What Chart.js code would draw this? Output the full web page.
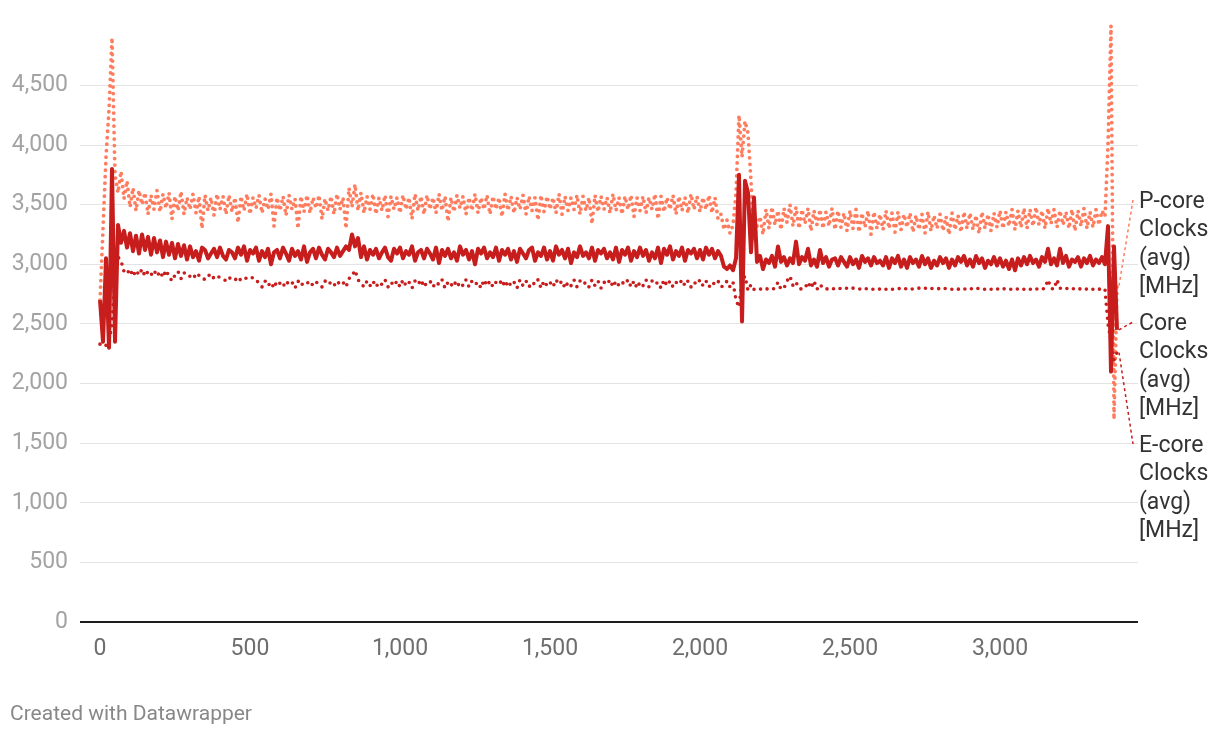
<!DOCTYPE html>
<html>
<head>
<meta charset="utf-8">
<title>Core Clocks</title>
<script src="https://cdn.jsdelivr.net/npm/chart.js@4.4.1/dist/chart.umd.min.js"></script>
<style>
    html, body { margin: 0; padding: 0; background: #fff; }
    #wrap { width: 1220px; height: 738px; position: relative; }
</style>
</head>
<body>
<div id="wrap"><canvas id="clocksChart"></canvas></div>
<script>
// One sample every 10 steps of the original log
const SAMPLE_STEP = 10;

const xTicks = [0, 500, 1000, 1500, 2000, 2500, 3000];
const yTicks = [0, 500, 1000, 1500, 2000, 2500, 3000, 3500, 4000, 4500];

const seriesNames = [
    ['P-core', 'Clocks', '(avg)', '[MHz]'],
    ['Core', 'Clocks', '(avg)', '[MHz]'],
    ['E-core', 'Clocks', '(avg)', '[MHz]']
];

const pCoreMhz = [
    2700, 3300, 3900, 4300, 4900, 3750, 3600, 3780, 3550, 3700,
    3480, 3640, 3450, 3620, 3500, 3600, 3420, 3580, 3460, 3620,
    3440, 3590, 3470, 3600, 3380, 3570, 3450, 3610, 3420, 3560,
    3460, 3590, 3430, 3570, 3300, 3580, 3450, 3560, 3410, 3590,
    3460, 3570, 3420, 3580, 3440, 3560, 3350, 3570, 3450, 3590,
    3420, 3560, 3470, 3580, 3430, 3550, 3460, 3590, 3320, 3560,
    3450, 3570, 3410, 3580, 3460, 3550, 3300, 3570, 3440, 3580,
    3430, 3560, 3470, 3580, 3380, 3550, 3450, 3570, 3420, 3590,
    3460, 3560, 3300, 3640, 3480, 3670, 3450, 3600, 3430, 3570,
    3460, 3590, 3420, 3560, 3450, 3580, 3400, 3570, 3460, 3560,
    3430, 3580, 3460, 3560, 3380, 3590, 3450, 3570, 3420, 3580,
    3460, 3560, 3430, 3590, 3450, 3570, 3360, 3560, 3440, 3580,
    3470, 3570, 3420, 3560, 3450, 3590, 3430, 3560, 3460, 3580,
    3420, 3570, 3460, 3560, 3400, 3590, 3450, 3570, 3430, 3560,
    3460, 3580, 3420, 3570, 3450, 3560, 3370, 3580, 3440, 3570,
    3460, 3560, 3430, 3590, 3420, 3570, 3450, 3560, 3460, 3580,
    3420, 3570, 3450, 3560, 3340, 3580, 3440, 3570, 3460, 3560,
    3430, 3590, 3450, 3560, 3420, 3570, 3460, 3580, 3400, 3560,
    3450, 3570, 3430, 3560, 3460, 3590, 3380, 3570, 3440, 3560,
    3460, 3580, 3420, 3570, 3450, 3560, 3430, 3590, 3460, 3570,
    3440, 3560, 3460, 3580, 3430, 3560, 3380, 3420, 3290, 3370,
    3260, 3330, 3600, 4250, 3900, 4200, 4100, 3700, 3200, 3320,
    3400, 3250, 3460, 3300, 3480, 3330, 3450, 3290, 3470, 3350,
    3500, 3320, 3480, 3300, 3460, 3340, 3470, 3280, 3450, 3330,
    3460, 3300, 3440, 3320, 3470, 3290, 3450, 3310, 3430, 3280,
    3450, 3300, 3460, 3270, 3430, 3310, 3450, 3250, 3440, 3300,
    3420, 3290, 3450, 3300, 3430, 3270, 3440, 3290, 3420, 3310,
    3430, 3270, 3410, 3290, 3420, 3260, 3440, 3280, 3410, 3300,
    3420, 3280, 3400, 3250, 3430, 3290, 3410, 3270, 3440, 3300,
    3430, 3290, 3410, 3260, 3440, 3300, 3420, 3280, 3430, 3310,
    3450, 3300, 3440, 3320, 3460, 3290, 3450, 3310, 3470, 3300,
    3460, 3320, 3480, 3330, 3450, 3300, 3470, 3340, 3460, 3310,
    3450, 3330, 3440, 3300, 3460, 3280, 3450, 3320, 3470, 3300,
    3440, 3310, 3460, 3330, 3450, 3400, 4000, 5000, 1700, 2820
];

const coreMhz = [
    2700, 2350, 3050, 2300, 3800, 2350, 3330, 3180, 3280, 3140,
    3260, 3110, 3240, 3090, 3250, 3120, 3230, 3080, 3220, 3100,
    3200, 3060, 3190, 3080, 3180, 3050, 3170, 3070, 3160, 3040,
    3150, 3060, 3110, 3030, 3140, 3120, 3050, 3090, 3130, 3060,
    3140, 3070, 3040, 3120, 3100, 3050, 3140, 3080, 3150, 3030,
    3120, 3090, 3140, 3030, 3110, 3060, 3130, 3000, 3100, 3120,
    3050, 3140, 3090, 3030, 3130, 3070, 3110, 3040, 3150, 3020,
    3100, 3130, 3050, 3140, 3080, 3040, 3130, 3100, 3060, 3140,
    3070, 3110, 3150, 3120, 3250, 3150, 3220, 3060, 3150, 3040,
    3120, 3080, 3130, 3050, 3100, 3140, 3060, 3030, 3130, 3090,
    3140, 3050, 3110, 3080, 3150, 3030, 3100, 3120, 3050, 3130,
    3090, 3040, 3140, 3010, 3120, 3070, 3130, 3050, 3100, 3030,
    3150, 3080, 3120, 3040, 3110, 3000, 3130, 3090, 3140, 3050,
    3100, 3060, 3140, 3030, 3120, 3080, 3130, 3040, 3110, 3020,
    3130, 3090, 3050, 3120, 3140, 3030, 3100, 3070, 3140, 3040,
    3110, 3030, 3150, 3080, 3120, 3050, 3130, 3010, 3100, 3060,
    3150, 3070, 3100, 3050, 3140, 3030, 3120, 3090, 3130, 3050,
    3100, 3040, 3140, 3020, 3120, 3080, 3140, 3030, 3110, 3060,
    3140, 3070, 3120, 3030, 3100, 3050, 3140, 3010, 3130, 3080,
    3150, 3040, 3110, 3070, 3140, 3030, 3120, 3090, 3130, 3050,
    3120, 3040, 3140, 3080, 3130, 3050, 3110, 3070, 2980, 2960,
    2990, 2950, 3050, 3750, 2520, 3700, 3600, 3100, 3560, 3020,
    3070, 2960, 3040, 3010, 3070, 2980, 3150, 3020, 3060, 2990,
    3050, 3010, 3190, 3000, 3060, 3030, 3130, 2990, 3040, 2980,
    3120, 3010, 3060, 2980, 3040, 3050, 2990, 3060, 3020, 2980,
    3060, 3000, 3040, 2970, 3070, 3020, 3050, 2990, 3060, 3010,
    3030, 2990, 3060, 2970, 3050, 3010, 3070, 2980, 3040, 2970,
    3060, 3010, 3040, 2980, 3070, 3000, 3050, 2970, 3030, 2990,
    3060, 3010, 3050, 2970, 3040, 2990, 3060, 3020, 3070, 2990,
    3040, 2980, 3070, 3010, 3050, 2970, 3030, 3000, 3060, 2990,
    3050, 2980, 3030, 2960, 3040, 2950, 3050, 2990, 3060, 3000,
    3070, 3010, 3040, 2980, 3060, 3020, 3130, 3000, 3050, 2990,
    3130, 3010, 3070, 2980, 3040, 3020, 3060, 2980, 3050, 3010,
    3070, 2990, 3040, 3010, 3060, 3000, 3320, 2100, 3150, 2450
];

const eCoreMhz = [
    2330, 2340, 2320, 2350, 2500, 2900, 3060, 3030, 2940, 2920,
    2960, 2900, 2950, 2910, 2960, 2900, 2940, 2910, 2950, 2900,
    2940, 2890, 2950, 2900, 2860, 2910, 2940, 2880, 2930, 2900,
    2900, 2920, 2880, 2910, 2890, 2870, 2900, 2920, 2880, 2900,
    2890, 2880, 2860, 2890, 2870, 2880, 2850, 2880, 2870, 2890,
    2880, 2890, 2870, 2840, 2810, 2860, 2820, 2850, 2800, 2860,
    2840, 2810, 2860, 2830, 2850, 2800, 2860, 2820, 2850, 2840,
    2860, 2820, 2850, 2840, 2810, 2860, 2830, 2850, 2820, 2860,
    2830, 2850, 2810, 2880, 2900, 2950, 2870, 2840, 2810, 2860,
    2820, 2860, 2810, 2850, 2830, 2870, 2810, 2850, 2820, 2860,
    2810, 2870, 2820, 2850, 2800, 2860, 2830, 2870, 2810, 2850,
    2860, 2810, 2850, 2830, 2870, 2800, 2850, 2820, 2860, 2810,
    2850, 2820, 2870, 2810, 2860, 2830, 2850, 2800, 2870, 2820,
    2860, 2810, 2850, 2830, 2870, 2810, 2860, 2820, 2850, 2800,
    2870, 2820, 2860, 2810, 2850, 2830, 2870, 2800, 2860, 2820,
    2850, 2810, 2870, 2830, 2860, 2800, 2850, 2820, 2870, 2810,
    2860, 2830, 2850, 2810, 2870, 2820, 2860, 2800, 2850, 2830,
    2870, 2810, 2860, 2820, 2850, 2830, 2870, 2810, 2860, 2800,
    2850, 2820, 2870, 2810, 2860, 2830, 2850, 2800, 2870, 2820,
    2860, 2810, 2850, 2830, 2870, 2820, 2860, 2810, 2850, 2830,
    2870, 2820, 2860, 2810, 2850, 2830, 2860, 2810, 2820, 2860,
    2810, 2850, 2700, 2640, 2860, 2900, 2780, 2830, 2790, 2780,
    2790, 2800, 2790, 2800, 2790, 2800, 2850, 2790, 2800, 2860,
    2900, 2820, 2850, 2800, 2790, 2800, 2850, 2800, 2860, 2790,
    2830, 2800, 2790, 2800, 2790, 2800, 2790, 2800, 2790, 2800,
    2790, 2800, 2790, 2790, 2800, 2790, 2800, 2790, 2790, 2800,
    2790, 2800, 2790, 2800, 2790, 2790, 2800, 2790, 2800, 2790,
    2800, 2790, 2790, 2800, 2790, 2800, 2790, 2800, 2790, 2790,
    2800, 2790, 2800, 2790, 2790, 2800, 2790, 2800, 2790, 2800,
    2790, 2800, 2790, 2800, 2790, 2790, 2800, 2790, 2800, 2790,
    2800, 2790, 2800, 2790, 2790, 2800, 2790, 2800, 2790, 2800,
    2790, 2800, 2790, 2800, 2790, 2800, 2870, 2800, 2790, 2870,
    2800, 2790, 2800, 2790, 2800, 2790, 2800, 2790, 2800, 2790,
    2800, 2790, 2800, 2790, 2800, 2790, 2500, 2350, 2200, 2260
];

const P_COLOR = '#ff7c5e';
const CORE_COLOR = '#c71e1d';
const FONT = 'Roboto';

// centre of the first line of each end label
const labelCenters = [202, 324, 446];
const LABEL_LINE = 28.5;

function toPoints(values) {
    return values.map((v, i) => ({ x: i * SAMPLE_STEP, y: v }));
}

// Draws the connector lines, the series names and the footer
const endLabels = {
    id: 'endLabels',
    afterDatasetsDraw(chart) {
        const ctx = chart.ctx;
        const area = chart.chartArea;
        chart.data.datasets.forEach((ds, i) => {
            const meta = chart.getDatasetMeta(i);
            const last = meta.data[meta.data.length - 1];
            const cy = labelCenters[i];
            ctx.save();
            ctx.strokeStyle = ds.borderColor;
            ctx.lineWidth = 1.5;
            ctx.setLineDash([3, 3]);
            ctx.beginPath();
            ctx.moveTo(last.x + 2, last.y);
            ctx.lineTo(area.right - 5, cy - 2);
            ctx.stroke();
            ctx.setLineDash([]);
            ctx.fillStyle = '#333';
            ctx.font = '23px ' + FONT;
            ctx.textBaseline = 'middle';
            ctx.textAlign = 'left';
            seriesNames[i].forEach((line, k) => {
                ctx.fillText(line, area.right + 1, cy + k * LABEL_LINE);
            });
            ctx.restore();
        });

        ctx.save();
        ctx.fillStyle = '#888';
        ctx.font = '21px ' + FONT;
        ctx.textBaseline = 'middle';
        ctx.fillText('Created with Datawrapper', 10, 715);
        ctx.restore();
    }
};

const ctx = document.getElementById('clocksChart').getContext('2d');
new Chart(ctx, {
    type: 'line',
    data: {
        datasets: [
            {
                label: 'P-core Clocks (avg) [MHz]',
                data: toPoints(pCoreMhz),
                borderColor: P_COLOR,
                borderWidth: 3.8,
                borderDash: [0, 6.5],
                borderCapStyle: 'round',
                order: 3
            },
            {
                label: 'Core Clocks (avg) [MHz]',
                data: toPoints(coreMhz),
                borderColor: CORE_COLOR,
                borderWidth: 4,
                borderJoinStyle: 'round',
                order: 2
            },
            {
                label: 'E-core Clocks (avg) [MHz]',
                data: toPoints(eCoreMhz),
                borderColor: CORE_COLOR,
                borderWidth: 3.6,
                borderDash: [0, 7],
                borderCapStyle: 'round',
                order: 1
            }
        ]
    },
    options: {
        responsive: true,
        maintainAspectRatio: false,
        devicePixelRatio: 1,
        animation: false,
        parsing: false,
        elements: {
            point: { radius: 0, hoverRadius: 0 },
            line: { tension: 0 }
        },
        datasets: { line: { clip: 8 } },
        layout: { padding: { top: 21, right: 82, left: 0, bottom: 0 } },
        plugins: {
            legend: { display: false },
            tooltip: { enabled: false }
        },
        scales: {
            x: {
                type: 'linear',
                min: -66.7,
                max: 3460,
                grid: { display: false, drawTicks: false },
                border: { display: false },
                ticks: {
                    font: { family: FONT, size: 23 },
                    color: '#6e6e6e',
                    padding: 13,
                    maxRotation: 0,
                    callback: v => v.toLocaleString('en-US')
                },
                afterBuildTicks: scale => {
                    scale.ticks = xTicks.map(v => ({ value: v }));
                },
                afterFit: scale => { scale.height = 116; }
            },
            y: {
                min: 0,
                max: 5000,
                grid: {
                    drawTicks: false,
                    color: c => (c.tick && c.tick.value === 0) ? '#1d1d1d' : '#e3e3e3',
                    lineWidth: c => (c.tick && c.tick.value === 0) ? 2 : 1
                },
                border: { display: false },
                ticks: {
                    font: { family: FONT, size: 23 },
                    color: '#a3a3a3',
                    padding: 12,
                    callback: v => v.toLocaleString('en-US')
                },
                afterBuildTicks: scale => {
                    scale.ticks = yTicks.map(v => ({ value: v }));
                },
                afterFit: scale => { scale.width = 80; }
            }
        }
    },
    plugins: [endLabels]
});
</script>
</body>
</html>
